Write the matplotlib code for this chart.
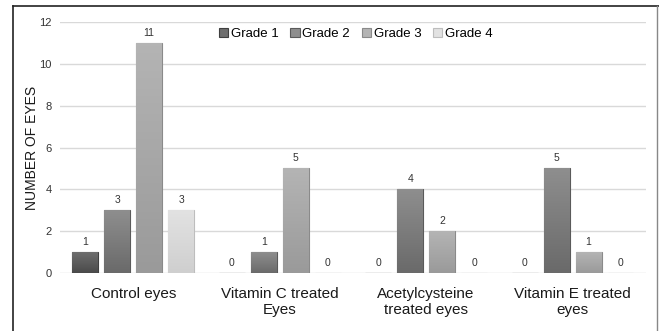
import numpy as np
import matplotlib.pyplot as plt
from matplotlib.lines import Line2D
from matplotlib.colors import LinearSegmentedColormap

# ------------------------------------------------------------
# Data
# ------------------------------------------------------------
categories = ["Control eyes", "Vitamin C treated\nEyes",
              "Acetylcysteine\ntreated eyes", "Vitamin E treated\neyes"]
series_names = ["Grade 1", "Grade 2", "Grade 3", "Grade 4"]
grade1 = [1, 0, 0, 0]
grade2 = [3, 1, 4, 5]
grade3 = [11, 5, 2, 1]
grade4 = [3, 0, 0, 0]
yticks = [0, 2, 4, 6, 8, 10, 12]

# gradient (top colour, bottom colour) per grade
top_cols = ["#6e6e6e", "#8e8e8e", "#b4b4b4", "#e2e2e2"]
bot_cols = ["#4a4a4a", "#6a6a6a", "#9a9a9a", "#cfcfcf"]
edge_cols = ["#404040", "#5a5a5a", "#8a8a8a", "#bdbdbd"]

plt.rcParams['font.family'] = ['Liberation Sans', 'DejaVu Sans']

fig = plt.figure(figsize=(6.59, 3.31), dpi=100)
ax = fig.add_axes([0.091, 0.175, 0.889, 0.7585])

x = np.arange(len(categories))
width = 0.177
step = 0.218
values = [grade1, grade2, grade3, grade4]

for i, vals in enumerate(values):
    pos = x + (i - 1.5) * step
    bars = ax.bar(pos, vals, width, color=top_cols[i], edgecolor=edge_cols[i],
                  linewidth=0.8, label=series_names[i], zorder=3)
    cmap = LinearSegmentedColormap.from_list("g%d" % i, [bot_cols[i], top_cols[i]])
    for b, v in zip(bars, vals):
        if v > 0:
            grad = np.linspace(0, 1, 64).reshape(-1, 1)
            im = ax.imshow(grad, cmap=cmap, origin='lower', aspect='auto',
                           extent=[b.get_x(), b.get_x() + b.get_width(), 0, b.get_height()],
                           zorder=3.5)
            im.set_clip_path(b)
        ax.text(b.get_x() + b.get_width() / 2, v + 0.25, str(v),
                ha='center', va='bottom', fontsize=7.5, color='#333333', zorder=5)

ax.set_xlim(-0.5, len(categories) - 0.5)
ax.set_ylim(0, 12)
ax.set_yticks(yticks)
ax.yaxis.grid(True, color='#d9d9d9', linewidth=1, zorder=0)
ax.set_axisbelow(True)
for s in ax.spines.values():
    s.set_visible(False)
ax.tick_params(axis='both', length=0)
ax.tick_params(axis='y', labelsize=8, labelcolor='#333333', pad=6)
ax.set_xticks(x)
ax.set_xticklabels(categories, fontsize=11, color='#1a1a1a', linespacing=1.2)
ax.tick_params(axis='x', pad=10)
ax.set_ylabel("NUMBER OF EYES", fontsize=10, color='#1a1a1a')
ax.yaxis.set_label_coords(-0.036, 0.5)

ax.legend(loc='upper center', bbox_to_anchor=(0.505, 1.025), ncol=4, frameon=False,
          fontsize=9.5, handlelength=0.7, handleheight=0.7, handletextpad=0.2,
          columnspacing=0.9)

# picture frame
fig.add_artist(Line2D([0.0197, 0.0197], [0.0, 0.982], color='#222222', lw=1.2))
fig.add_artist(Line2D([0.0197, 1.0], [0.982, 0.982], color='#222222', lw=1.2))
fig.add_artist(Line2D([0.997, 0.997], [0.0, 0.982], color='#888888', lw=1.0))

fig.savefig("out.png", dpi=100)
